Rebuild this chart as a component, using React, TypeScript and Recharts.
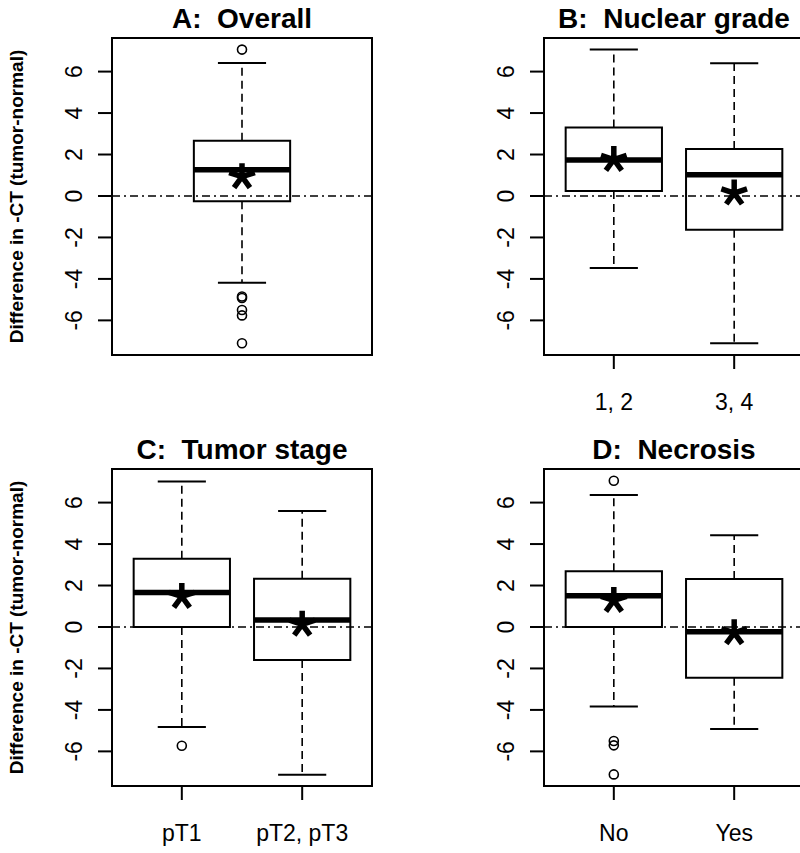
import React from "react";
import { ComposedChart, XAxis, YAxis, ReferenceArea, ReferenceLine, Scatter } from "recharts";

const FONT = '"Liberation Sans", Arial, Helvetica, sans-serif';

// one entry per panel, one inner entry per group
const TITLES = ["A:  Overall", "B:  Nuclear grade", "C:  Tumor stage", "D:  Necrosis"];
const GROUPS = [[""], ["1, 2", "3, 4"], ["pT1", "pT2, pT3"], ["No", "Yes"]];
const WHISKER_LO = [[-4.19], [-3.47, -7.1], [-4.82, -7.13], [-3.84, -4.92]];
const Q1 = [[-0.25], [0.24, -1.63], [0.0, -1.59], [0.0, -2.45]];
const MEDIAN = [[1.26], [1.73, 1.03], [1.66, 0.34], [1.51, -0.23]];
const Q3 = [[2.66], [3.3, 2.27], [3.29, 2.33], [2.69, 2.32]];
const WHISKER_HI = [[6.42], [7.06, 6.4], [7.02, 5.6], [6.37, 4.42]];
const MEANS = [[0.93], [1.76, 0.14], [1.47, 0.13], [1.28, -0.28]];
const OUTLIERS = [
  [[7.06, -4.85, -4.92, -5.5, -5.76, -7.1]],
  [[], []],
  [[-5.73], []],
  [[7.05, -5.5, -5.71, -7.11], []],
];
const Y_TICKS = [-6, -4, -2, 0, 2, 4, 6];
const Y_DOMAIN = [-7.67, 7.62];
const Y_TITLE = "Difference in -CT (tumor-normal)";

const LAYOUT = [
  { left: 0, top: 0, yTitle: true, xAxis: false },
  { left: 432, top: 0, yTitle: false, xAxis: true },
  { left: 0, top: 431, yTitle: true, xAxis: true },
  { left: 432, top: 431, yTitle: false, xAxis: true },
];

function YTick({ x, y, payload }: any) {
  return (
    <text x={x} y={y} transform={`rotate(-90 ${x} ${y})`} textAnchor="middle"
      fontSize={23} fontFamily={FONT} fill="#000">
      {payload.value}
    </text>
  );
}

function XTick({ x, y, payload, labels }: any) {
  return (
    <text x={x} y={y} textAnchor="middle" fontSize={23} fontFamily={FONT} fill="#000">
      {labels[payload.value - 1]}
    </text>
  );
}

function YTitle({ viewBox }: any) {
  const vb = viewBox || { x: 0, y: 38, width: 112, height: 317 };
  const tx = vb.x + 23;
  const ty = vb.y + vb.height / 2;
  return (
    <text x={tx} y={ty} transform={`rotate(-90 ${tx} ${ty})`} textAnchor="middle"
      fontSize={19} fontWeight="bold" fontFamily={FONT} fill="#000">
      {Y_TITLE}
    </text>
  );
}

function Circle(p: any) {
  return <circle cx={p.cx} cy={p.cy} r={4.5} fill="none" stroke="#000" strokeWidth={1.6} />;
}

function Star(p: any) {
  const L = 13.5;
  const d = [-90, -18, 54, 126, 198]
    .map((a) => {
      const r = (a * Math.PI) / 180;
      return `M${p.cx},${p.cy}L${p.cx + L * Math.cos(r)},${p.cy + L * Math.sin(r)}`;
    })
    .join("");
  return <path d={d} stroke="#000" strokeWidth={5.5} fill="none" />;
}

function Panel({ k }: { k: number }) {
  const lay = LAYOUT[k];
  const groups = GROUPS[k];
  const n = groups.length;
  const xDomain = n === 1 ? [0.46, 1.54] : [0.42, 2.58];
  const hw = n === 1 ? 0.2 : 0.4;
  const cw = hw / 2;
  const xs = groups.map((_, i) => i + 1);

  const outPts = OUTLIERS[k].flatMap((vals, i) => vals.map((y) => ({ x: i + 1, y })));
  const meanPts = MEANS[k].map((y, i) => ({ x: i + 1, y }));

  return (
    <div style={{ position: "absolute", left: lay.left, top: lay.top, width: 400, height: 420 }}>
      <div style={{
        position: "absolute", left: 112, top: 4.5, width: 260, textAlign: "center",
        fontFamily: FONT, fontWeight: "bold", fontSize: 28, lineHeight: "28px", whiteSpace: "pre", color: "#000",
      }}>
        {TITLES[k]}
      </div>
      <ComposedChart width={400} height={420}
        margin={{ top: 38, right: 28, left: 0, bottom: lay.xAxis ? 0 : 65 }}>
        <XAxis dataKey="x" type="number" domain={xDomain} allowDataOverflow ticks={xs} interval={0}
          hide={!lay.xAxis} height={65} axisLine={false} tickSize={14} tickMargin={41}
          tickLine={{ stroke: "#000", strokeWidth: 2 }}
          tick={(p: any) => <XTick {...p} labels={groups} />} />
        <YAxis dataKey="y" type="number" domain={Y_DOMAIN} allowDataOverflow ticks={Y_TICKS} interval={0}
          width={112} axisLine={false} tickSize={14} tickMargin={16}
          tickLine={{ stroke: "#000", strokeWidth: 2 }}
          tick={<YTick />}
          label={lay.yTitle ? <YTitle /> : undefined} />

        {xs.map((x, i) => (
          <ReferenceLine key={`wu${i}`} segment={[{ x, y: Q3[k][i] }, { x, y: WHISKER_HI[k][i] }]}
            stroke="#000" strokeWidth={1.6} strokeDasharray="8 5" />
        ))}
        {xs.map((x, i) => (
          <ReferenceLine key={`wl${i}`} segment={[{ x, y: Q1[k][i] }, { x, y: WHISKER_LO[k][i] }]}
            stroke="#000" strokeWidth={1.6} strokeDasharray="8 5" />
        ))}
        {xs.map((x, i) => (
          <ReferenceLine key={`cu${i}`} segment={[{ x: x - cw, y: WHISKER_HI[k][i] }, { x: x + cw, y: WHISKER_HI[k][i] }]}
            stroke="#000" strokeWidth={2} />
        ))}
        {xs.map((x, i) => (
          <ReferenceLine key={`cl${i}`} segment={[{ x: x - cw, y: WHISKER_LO[k][i] }, { x: x + cw, y: WHISKER_LO[k][i] }]}
            stroke="#000" strokeWidth={2} />
        ))}
        {xs.map((x, i) => (
          <ReferenceArea key={`bx${i}`} x1={x - hw} x2={x + hw} y1={Q1[k][i]} y2={Q3[k][i]}
            fill="#fff" fillOpacity={1} stroke="#000" strokeWidth={2} />
        ))}
        {xs.map((x, i) => (
          <ReferenceLine key={`md${i}`} segment={[{ x: x - hw, y: MEDIAN[k][i] }, { x: x + hw, y: MEDIAN[k][i] }]}
            stroke="#000" strokeWidth={5.5} />
        ))}
        <ReferenceLine y={0} stroke="#000" strokeWidth={1.6} strokeDasharray="8 4 2 4" />
        <ReferenceArea x1={xDomain[0]} x2={xDomain[1]} y1={Y_DOMAIN[0]} y2={Y_DOMAIN[1]}
          fill="none" stroke="#000" strokeWidth={2} />
        <Scatter data={outPts} dataKey="y" shape={<Circle />} isAnimationActive={false} />
        <Scatter data={meanPts} dataKey="y" shape={<Star />} isAnimationActive={false} />
      </ComposedChart>
    </div>
  );
}

export default function App() {
  return (
    <div style={{ position: "absolute", left: 0, top: 0, width: 800, height: 853, overflow: "hidden", background: "#fff" }}>
      {TITLES.map((_, k) => <Panel key={k} k={k} />)}
    </div>
  );
}
